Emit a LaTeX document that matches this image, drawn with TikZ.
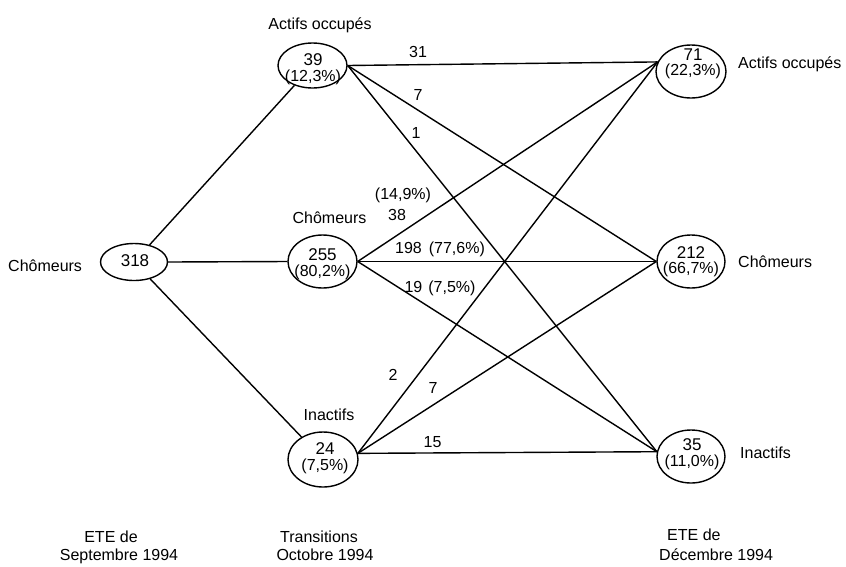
\documentclass[tikz,border=0pt]{standalone}
\usepackage{fontspec}
\setmainfont{Liberation Sans}
\usetikzlibrary{shapes.geometric}
\begin{document}
\begin{tikzpicture}[x=1pt,y=-1pt,
  ring/.style={draw, ellipse, line width=1.4pt, inner sep=0pt,
    minimum width=69pt, minimum height=53pt},
  val/.style={align=center, inner sep=0pt,
    font=\fontsize{17}{15.5}\selectfont},
  lbl/.style={anchor=base, inner sep=0pt, font=\fontsize{16}{18}\selectfont},
  flow/.style={line width=1.4pt}
]
\newcommand\pct[1]{{\fontsize{16}{15}\selectfont #1}}
\useasboundingbox (0,0) rectangle (846,566);

% ---- states ----
\node[ring, minimum width=67pt, minimum height=37pt] (s0) at (134,262) {};
\node[ring, minimum width=69pt, minimum height=45pt] (a1) at (312.5,65.5) {};
\node[ring] (c1) at (322.5,261.5) {};
\node[ring, minimum width=70pt, minimum height=55pt] (i1) at (323,459.5) {};
\node[ring, minimum width=70pt] (a2) at (691,71.5) {};
\node[ring, minimum width=68pt] (c2) at (691,261.5) {};
\node[ring, minimum width=68pt] (i2) at (691,456.5) {};

% ---- values inside the states ----
\node[val] (s0t) at (135,260.5) {318};
\node[val] (a1t) at (313,69) {39\\\pct{(12,3\%)}};
\node[val] (c1t) at (322.5,264) {255\\\pct{(80,2\%)}};
\node[val] (i1t) at (325,458) {24\\\pct{(7,5\%)}};
\node[val] (a2t) at (693,64) {71\\\pct{(22,3\%)}};
\node[val] (c2t) at (691,261.5) {212\\\pct{(66,7\%)}};
\node[val] (i2t) at (692,454) {35\\\pct{(11,0\%)}};

% ---- state names ----
\node[lbl, anchor=base west] (l0) at (8,271) {Chômeurs};
\node[lbl] (la1) at (320,29) {Actifs occupés};
\node[lbl] (lc1) at (329.5,223) {Chômeurs};
\node[lbl] (li1) at (329,420) {Inactifs};
\node[lbl, anchor=base west] (la2) at (738,68) {Actifs occupés};
\node[lbl, anchor=base west] (lc2) at (738,267) {Chômeurs};
\node[lbl, anchor=base west] (li2) at (740,458) {Inactifs};

% ---- first step ----
\draw[flow] (s0) -- (a1);
\draw[flow] (s0.east) -- (c1.west);
\draw[flow] (s0) -- (i1);

% ---- second step ----
\draw[flow] (a1.east) -- (a2.164);
\draw[flow] (a1.east) -- (c2.west);
\draw[flow] (a1.east) -- (i2.172);
\draw[flow] (c1.east) -- (a2.164);
\draw[flow] (c1.east) -- (c2.west);
\draw[flow] (c1.east) -- (i2.172);
\draw[flow] (i1.10) -- (a2.164);
\draw[flow] (i1.10) -- (c2.west);
\draw[flow] (i1.10) -- (i2.172);

% ---- flow counts ----
\node[lbl] (f31) at (418,57) {31};
\node[lbl] (f7a) at (418,100) {7};
\node[lbl] (f1) at (416,138) {1};
\node[lbl] (f38p) at (403,199) {\pct{(14,9\%)}};
\node[lbl] (f38) at (397,220) {38};
\node[lbl] (f198) at (440,253) {198\hspace{7pt}\pct{(77,6\%)}};
\node[lbl] (f19) at (440,292) {19\hspace{6pt}\pct{(7,5\%)}};
\node[lbl] (f2) at (393,380) {2};
\node[lbl] (f7b) at (433,393) {7};
\node[lbl] (f15) at (432.5,447) {15};

% ---- period captions ----
\node[lbl] (p1a) at (111,542) {ETE de};
\node[lbl] (p1b) at (119,560) {Septembre 1994};
\node[lbl] (p2a) at (319,542) {Transitions};
\node[lbl] (p2b) at (325,560) {Octobre 1994};
\node[lbl, anchor=base west] (p3a) at (667,540) {ETE de};
\node[lbl, anchor=base west] (p3b) at (659,560) {Décembre 1994};
\end{tikzpicture}
\end{document}
